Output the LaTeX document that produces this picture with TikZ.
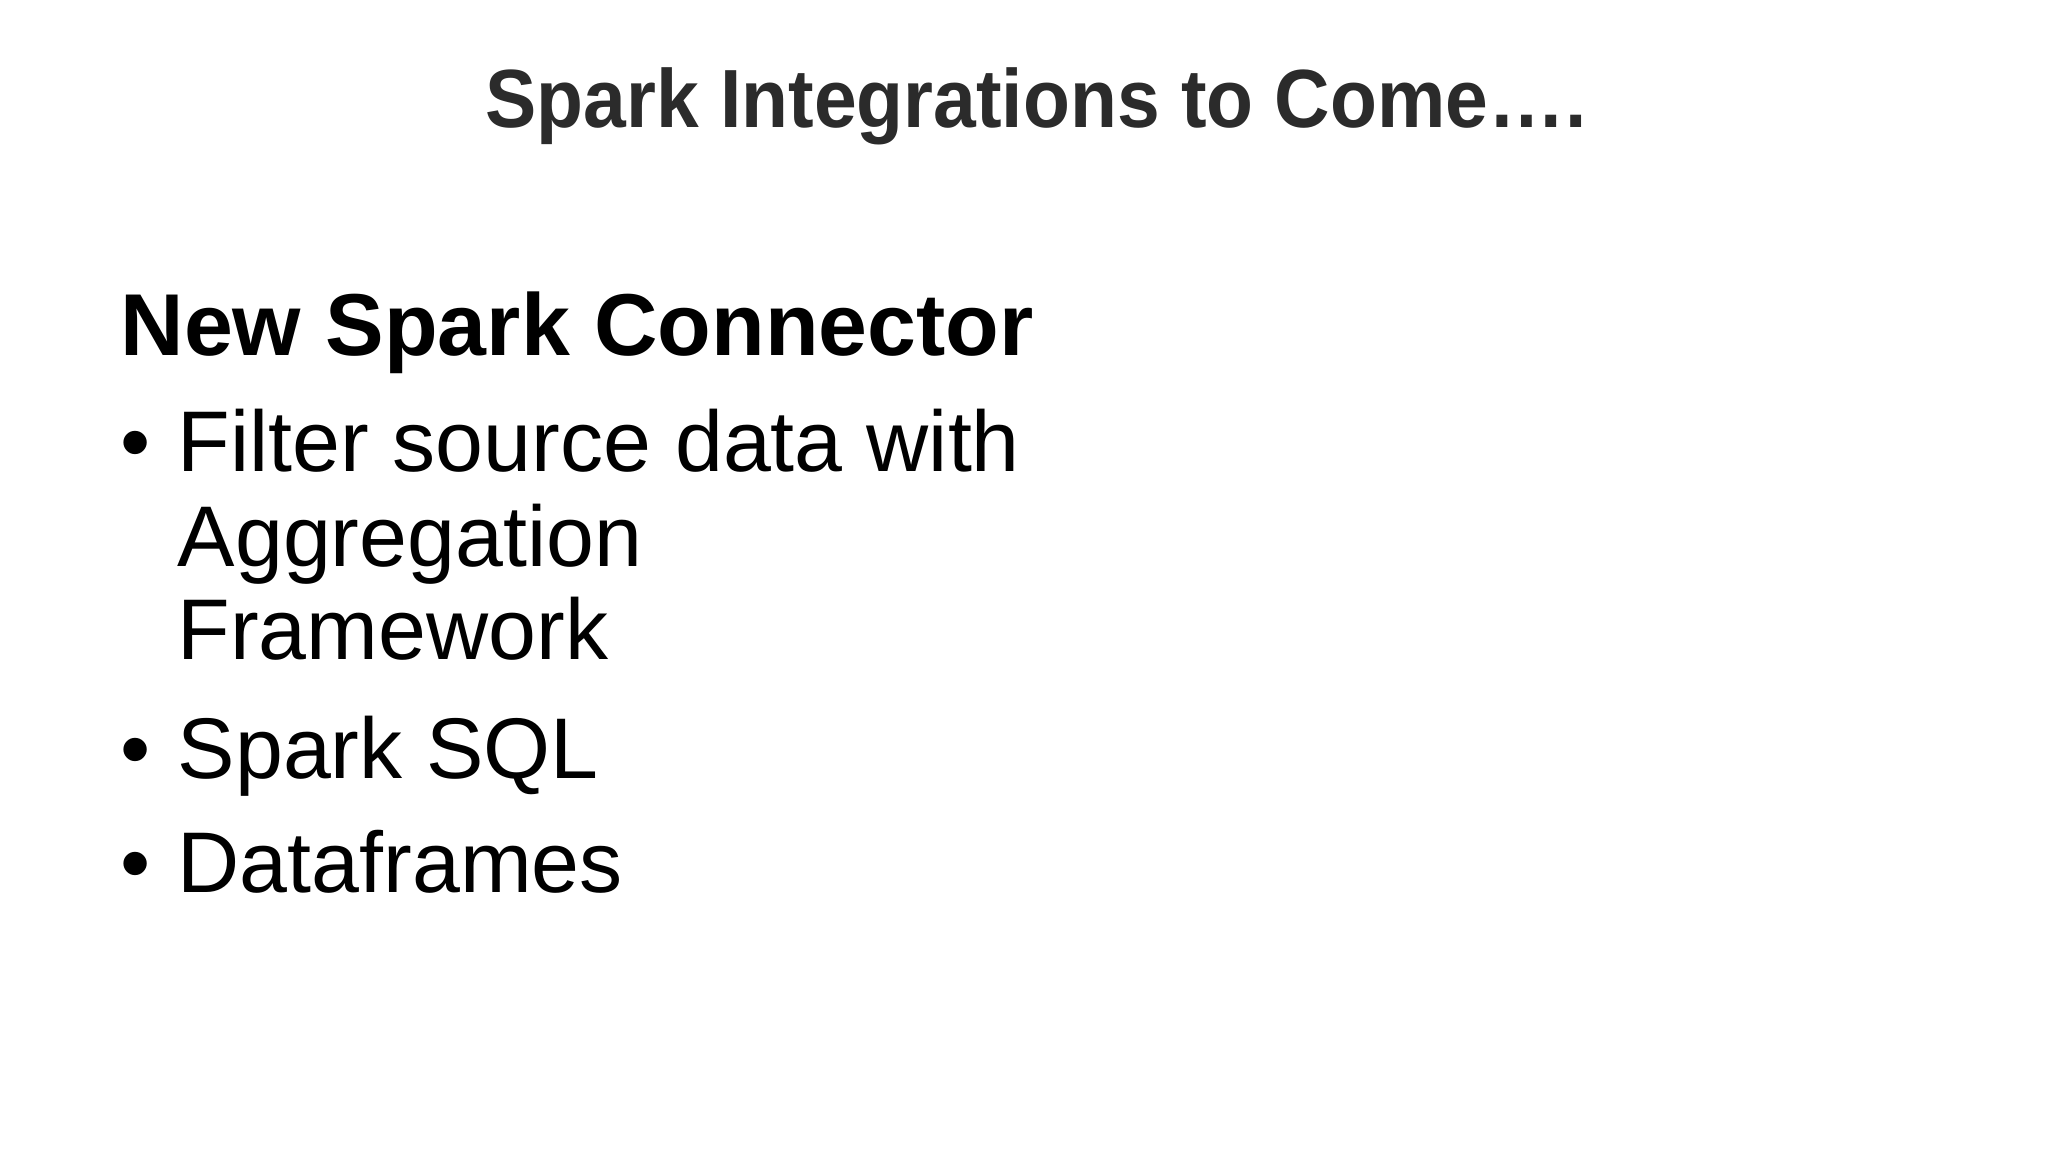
\documentclass[tikz,border=0pt]{standalone}
\usepackage{fontspec}
\setmainfont{Liberation Sans}
\begin{document}
\begin{tikzpicture}[x=1cm,y=1cm,
  txt/.style={anchor=base west,inner sep=0pt,font=\fontsize{24.5}{28}\selectfont},
  bul/.style={anchor=base west,inner sep=0pt,font=\fontsize{24.5}{28}\selectfont}]
\useasboundingbox[fill=white] (0,0) rectangle (20.48,11.52);
\node[anchor=base,inner sep=0pt,text=black!83,font=\fontsize{23.5}{28}\bfseries\selectfont,xscale=0.93] (title) at (10.36,10.24) {Spark Integrations to Come\dots.};
\node[anchor=base west,inner sep=0pt,font=\fontsize{25}{30}\bfseries\selectfont] (head) at (1.20,7.96) {New Spark Connector};
\node[bul] (b1) at (1.20,6.80) {•};
\node[txt] (t1) at (1.77,6.80) {Filter source data with};
\node[txt] (t1b) at (1.77,5.85) {Aggregation};
\node[txt] (t1c) at (1.77,4.92) {Framework};
\node[bul] (b2) at (1.20,3.73) {•};
\node[txt] (t2) at (1.77,3.73) {Spark SQL};
\node[bul] (b3) at (1.20,2.59) {•};
\node[txt] (t3) at (1.77,2.59) {Dataframes};
\end{tikzpicture}
\end{document}
